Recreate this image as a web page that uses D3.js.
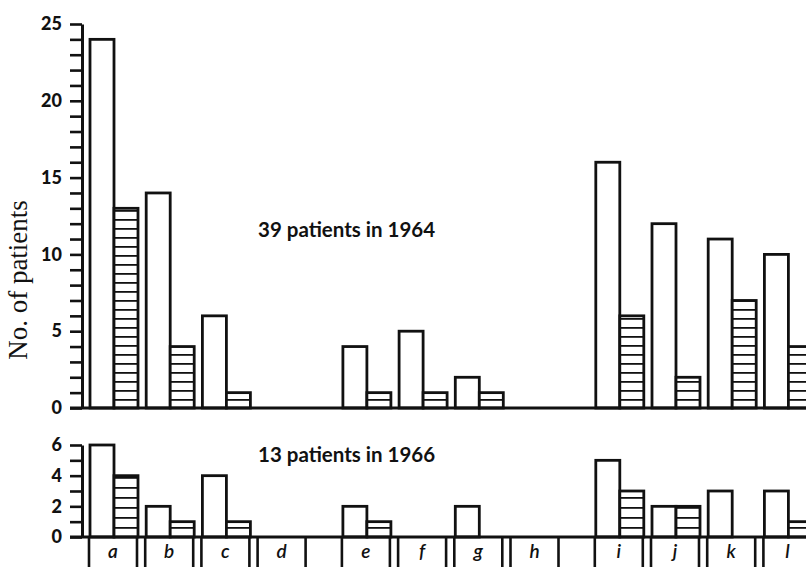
<!DOCTYPE html>
<html>
<head>
<meta charset="utf-8">
<script src="https://cdn.jsdelivr.net/npm/d3@7"></script>
<style>
  body { margin: 0; background: #fff; }
  svg { display: block; }
</style>
</head>
<body>
<svg id="chart" width="806" height="567"></svg>
<script>
// dados
const categories = ["a", "b", "c", "d", "e", "f", "g", "h", "i", "j", "k", "l"];
const plain1964 = [24, 14, 6, 0, 4, 5, 2, 0, 16, 12, 11, 10];
const hatched1964 = [13, 4, 1, 0, 1, 1, 1, 0, 6, 2, 7, 4];
const plain1966 = [6, 2, 4, 0, 2, 0, 2, 0, 5, 2, 3, 3];
const hatched1966 = [4, 1, 1, 0, 1, 0, 0, 0, 3, 2, 0, 1];
const ticks1964 = d3.range(0, 26);
const ticks1966 = d3.range(0, 7);
const title1964 = "39 patients in 1964";
const title1966 = "13 patients in 1966";
const yTitle = "No. of patients";

const svg = d3.select("#chart");
const ink = "#111";

// posição horizontal: grupos de 4 com um espaço entre eles
const slot = i => i + Math.floor(i / 4) * 0.5;
const x = d3.scaleLinear().domain([0, 1]).range([90, 146.2]);
const barW = 24;

const yTop = d3.scaleLinear().domain([0, 25]).range([408, 24]);
const yBottom = d3.scaleLinear().domain([0, 6]).range([537, 445]);

// padrões de listras horizontais
const defs = svg.append("defs");
function makePattern(id, base, gap) {
    const p = defs.append("pattern")
        .attr("id", id)
        .attr("patternUnits", "userSpaceOnUse")
        .attr("width", 10)
        .attr("height", gap)
        .attr("patternTransform", "translate(0," + base + ")");
    p.append("rect").attr("width", 10).attr("height", gap).attr("fill", "#fff");
    p.append("line")
        .attr("x1", 0).attr("x2", 10)
        .attr("y1", 0.9).attr("y2", 0.9)
        .attr("stroke", ink)
        .attr("stroke-width", 1.8);
}
makePattern("hatchTop", 408, 9);
makePattern("hatchBottom", 537, 10);

function drawPanel(plain, hatched, y, ticks, every, patternId, title, titleY) {
    const g = svg.append("g");

    // barras brancas e listradas
    categories.forEach((c, i) => {
        const x0 = x(slot(i));
        if (plain[i] > 0) {
            g.append("rect")
                .attr("x", x0)
                .attr("y", y(plain[i]))
                .attr("width", barW)
                .attr("height", y(0) - y(plain[i]))
                .attr("fill", "#fff")
                .attr("stroke", ink)
                .attr("stroke-width", 2.8);
        }
        if (hatched[i] > 0) {
            g.append("rect")
                .attr("x", x0 + barW)
                .attr("y", y(hatched[i]))
                .attr("width", barW)
                .attr("height", y(0) - y(hatched[i]))
                .attr("fill", "url(#" + patternId + ")")
                .attr("stroke", ink)
                .attr("stroke-width", 2.8);
        }
    });

    // eixo y
    const axis = d3.axisLeft(y)
        .tickValues(ticks)
        .tickSize(12)
        .tickSizeOuter(0)
        .tickPadding(8)
        .tickFormat(d => d % every == 0 ? d : "");
    const ga = g.append("g")
        .attr("transform", "translate(82,0)")
        .call(axis);
    ga.select(".domain").attr("stroke", ink).attr("stroke-width", 3);
    ga.selectAll(".tick line").attr("stroke", ink).attr("stroke-width", 2.6);
    ga.selectAll(".tick text")
        .attr("fill", ink)
        .style("font-family", "Lato, sans-serif")
        .style("font-weight", "900")
        .style("font-size", "18px");

    // linha de base
    g.append("line")
        .attr("x1", 70).attr("x2", 806)
        .attr("y1", y(0)).attr("y2", y(0))
        .attr("stroke", ink)
        .attr("stroke-width", 3);

    g.append("text")
        .attr("x", 258)
        .attr("y", titleY)
        .attr("fill", ink)
        .style("font-family", "Lato, sans-serif")
        .style("font-weight", "bold")
        .style("font-size", "20.5px")
        .text(title);
}

drawPanel(plain1964, hatched1964, yTop, ticks1964, 5, "hatchTop", title1964, 237);
drawPanel(plain1966, hatched1966, yBottom, ticks1966, 2, "hatchBottom", title1966, 462);

// caixas das categorias abaixo do eixo
categories.forEach((c, i) => {
    const x0 = x(slot(i));
    [x0 - 1, x0 + 2 * barW - 1].forEach(xx => {
        svg.append("line")
            .attr("x1", xx).attr("x2", xx)
            .attr("y1", yBottom(0)).attr("y2", 567)
            .attr("stroke", ink)
            .attr("stroke-width", 2.6);
    });
    svg.append("text")
        .attr("x", x0 + barW - 1)
        .attr("y", 558)
        .attr("text-anchor", "middle")
        .attr("fill", ink)
        .style("font-family", "Lato, sans-serif")
        .style("font-style", "italic")
        .style("font-weight", "600")
        .style("font-size", "19px")
        .text(c);
});

// título do eixo y
svg.append("text")
    .attr("transform", "translate(27,280) rotate(-90)")
    .attr("text-anchor", "middle")
    .attr("fill", ink)
    .style("font-family", "'Liberation Serif', serif")
    .style("font-size", "27px")
    .text(yTitle);
</script>
</body>
</html>
